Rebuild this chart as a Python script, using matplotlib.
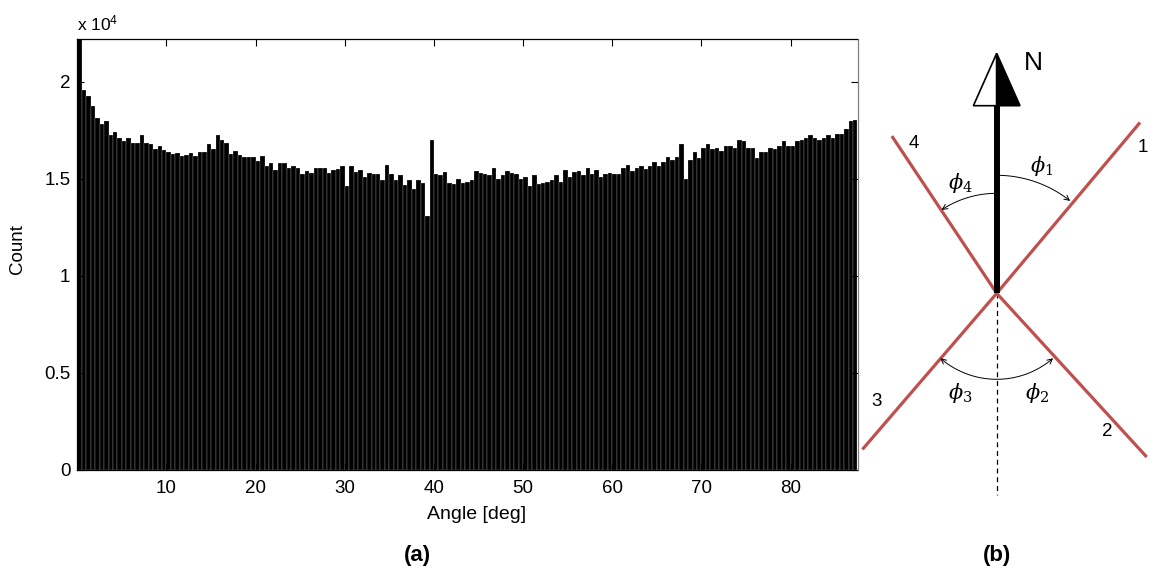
import numpy as np
import matplotlib
matplotlib.use('Agg')
import matplotlib.pyplot as plt
from matplotlib.patches import Polygon, FancyArrowPatch
from matplotlib.path import Path

plt.rcParams['font.family'] = ['Liberation Sans', 'DejaVu Sans']
plt.rcParams['mathtext.fontset'] = 'custom'
plt.rcParams['mathtext.rm'] = 'Liberation Sans'
plt.rcParams['mathtext.it'] = 'Liberation Sans:italic'

# histogram of angles, 0.5 deg bins from 0 to 87.5 deg (counts x 1e4)
bin_width = 0.5
counts = [
    2.350, 1.958, 1.926, 1.875, 1.812, 1.781, 1.797, 1.725, 1.741, 1.711,
    1.696, 1.709, 1.685, 1.685, 1.725, 1.685, 1.678, 1.656, 1.670, 1.647,
    1.639, 1.627, 1.632, 1.617, 1.624, 1.632, 1.617, 1.637, 1.637, 1.679,
    1.655, 1.725, 1.703, 1.685, 1.631, 1.646, 1.626, 1.615, 1.615, 1.613,
    1.593, 1.617, 1.567, 1.582, 1.545, 1.581, 1.581, 1.559, 1.565, 1.559,
    1.526, 1.541, 1.533, 1.559, 1.559, 1.559, 1.531, 1.548, 1.552, 1.567,
    1.462, 1.567, 1.536, 1.548, 1.510, 1.533, 1.526, 1.526, 1.493, 1.574,
    1.524, 1.493, 1.519, 1.471, 1.493, 1.447, 1.493, 1.481, 1.311, 1.703,
    1.528, 1.519, 1.536, 1.481, 1.473, 1.502, 1.481, 1.487, 1.493, 1.541,
    1.533, 1.524, 1.519, 1.557, 1.502, 1.519, 1.541, 1.533, 1.526, 1.502,
    1.509, 1.462, 1.519, 1.473, 1.481, 1.487, 1.493, 1.519, 1.486, 1.548,
    1.510, 1.536, 1.541, 1.519, 1.557, 1.526, 1.548, 1.510, 1.526, 1.533,
    1.528, 1.526, 1.557, 1.574, 1.541, 1.557, 1.565, 1.550, 1.565, 1.590,
    1.565, 1.590, 1.615, 1.598, 1.615, 1.679, 1.502, 1.597, 1.637, 1.607,
    1.662, 1.679, 1.655, 1.662, 1.646, 1.670, 1.670, 1.662, 1.703, 1.694,
    1.662, 1.662, 1.607, 1.637, 1.637, 1.662, 1.655, 1.670, 1.694, 1.670,
    1.670, 1.694, 1.703, 1.710, 1.725, 1.710, 1.703, 1.710, 1.725, 1.711,
    1.734, 1.734, 1.758, 1.797, 1.806,
]
counts = np.array(counts) * 1e4
left_edges = np.arange(len(counts)) * bin_width

xticks = [10, 20, 30, 40, 50, 60, 70, 80]
yticks = [0, 5000, 10000, 15000, 20000]
ytick_labels = ['0', '0.5', '1', '1.5', '2']

fig = plt.figure(figsize=(11.5, 5.76), dpi=100)

# ---- (a) histogram
ax = fig.add_axes([77.3/1150, 1 - 470/576, (857.5 - 77.3)/1150, (470 - 39.3)/576])
ax.bar(left_edges, counts, width=bin_width, align='edge', color='black',
       edgecolor='white', linewidth=0.15)
ax.set_xlim(0, len(counts) * bin_width)
ax.set_ylim(0, 22200)
ax.set_xticks(xticks)
ax.set_yticks(yticks)
ax.set_yticklabels(ytick_labels)
ax.tick_params(direction='in', top=True, right=True, length=5, width=0.8,
               labelsize=13.5)
ax.tick_params(axis='x', pad=7)
ax.tick_params(axis='y', pad=5)
for s in ax.spines.values():
    s.set_linewidth(0.9)
ax.spines['right'].set_color('0.5')
ax.set_xlabel('Angle [deg]', fontsize=14)
ax.xaxis.set_label_coords(0.512, -0.083)
ax.set_ylabel('Count', fontsize=13.5,
              family=['Liberation Sans Narrow', 'Liberation Sans'])
ax.yaxis.set_label_coords(-0.066, 0.513)
ax.text(0.0, 1.0216, r'x 10$^4$', transform=ax.transAxes, fontsize=12.5,
        ha='left', va='baseline')

fig.text(417/1150, 1 - 555/576, '(a)', fontsize=16, fontweight='bold',
         ha='center', va='center')
fig.text(997/1150, 1 - 555/576, '(b)', fontsize=16, fontweight='bold',
         ha='center', va='center')

# ---- (b) sketch, drawn in pixel units
ax2 = fig.add_axes([850/1150, 0, 300/1150, 1])
ax2.set_xlim(850, 1150)
ax2.set_ylim(576, 0)
ax2.axis('off')

cx, cy = 996.7, 293.3
red = '#C0504D'

def pt(angle, r):
    a = np.radians(angle)
    return cx + r * np.sin(a), cy - r * np.cos(a)

# rays: angle from north (clockwise), length, label, label position
rays = [(40.0, 223, '1', (1143, 147)),
        (137.5, 222, '2', (1107, 432)),
        (220.7, 206, '3', (877, 402)),
        (326.3, 189, '4', (914, 143))]
for ang, length, lab, (lx, ly) in rays:
    ex, ey = pt(ang, length)
    ax2.plot([cx, ex], [cy, ey], color=red, lw=2.3, solid_capstyle='butt', zorder=2)
    ax2.text(lx, ly, lab, fontsize=13.5, ha='center', va='center')

# north arrow
tip_y, base_y, half_w = 53.3, 105.7, 23.3
ax2.plot([cx, cx], [cy, base_y], color='black', lw=4.3, solid_capstyle='butt', zorder=3)
ax2.add_patch(Polygon([(cx, tip_y), (cx - half_w, base_y), (cx, base_y)],
                      closed=True, facecolor='white', edgecolor='black', lw=1.2, zorder=4))
ax2.add_patch(Polygon([(cx, tip_y), (cx + half_w, base_y), (cx, base_y)],
                      closed=True, facecolor='black', edgecolor='black', lw=1.2, zorder=4))
ax2.text(1033, 63, 'N', fontsize=19, ha='center', va='center')

# dashed south line
ax2.plot([cx, cx], [cy, 495], color='black', lw=0.9, ls=(0, (4, 3)), zorder=1)

def arc(a0, a1, r, style):
    t = np.linspace(a0, a1, 40)
    xs, ys = pt(t, r)
    p = Path(np.column_stack([xs, ys]))
    ax2.add_patch(FancyArrowPatch(path=p, arrowstyle=style, mutation_scale=9,
                                  color='black', lw=0.7, zorder=5))

arc(1, 38.5, 118, '->')
arc(-1, -33.5, 100, '->')
arc(139, 221, 86, '<->')

phi_labels = [(1042, 166, r'$\phi_1$'), (1037, 393, r'$\phi_2$'),
              (960, 393, r'$\phi_3$'), (960, 183, r'$\phi_4$')]
for lx, ly, lab in phi_labels:
    ax2.text(lx, ly, lab, fontsize=15, ha='center', va='center',
             math_fontfamily='dejavuserif')

fig.savefig('out.png', dpi=100)
